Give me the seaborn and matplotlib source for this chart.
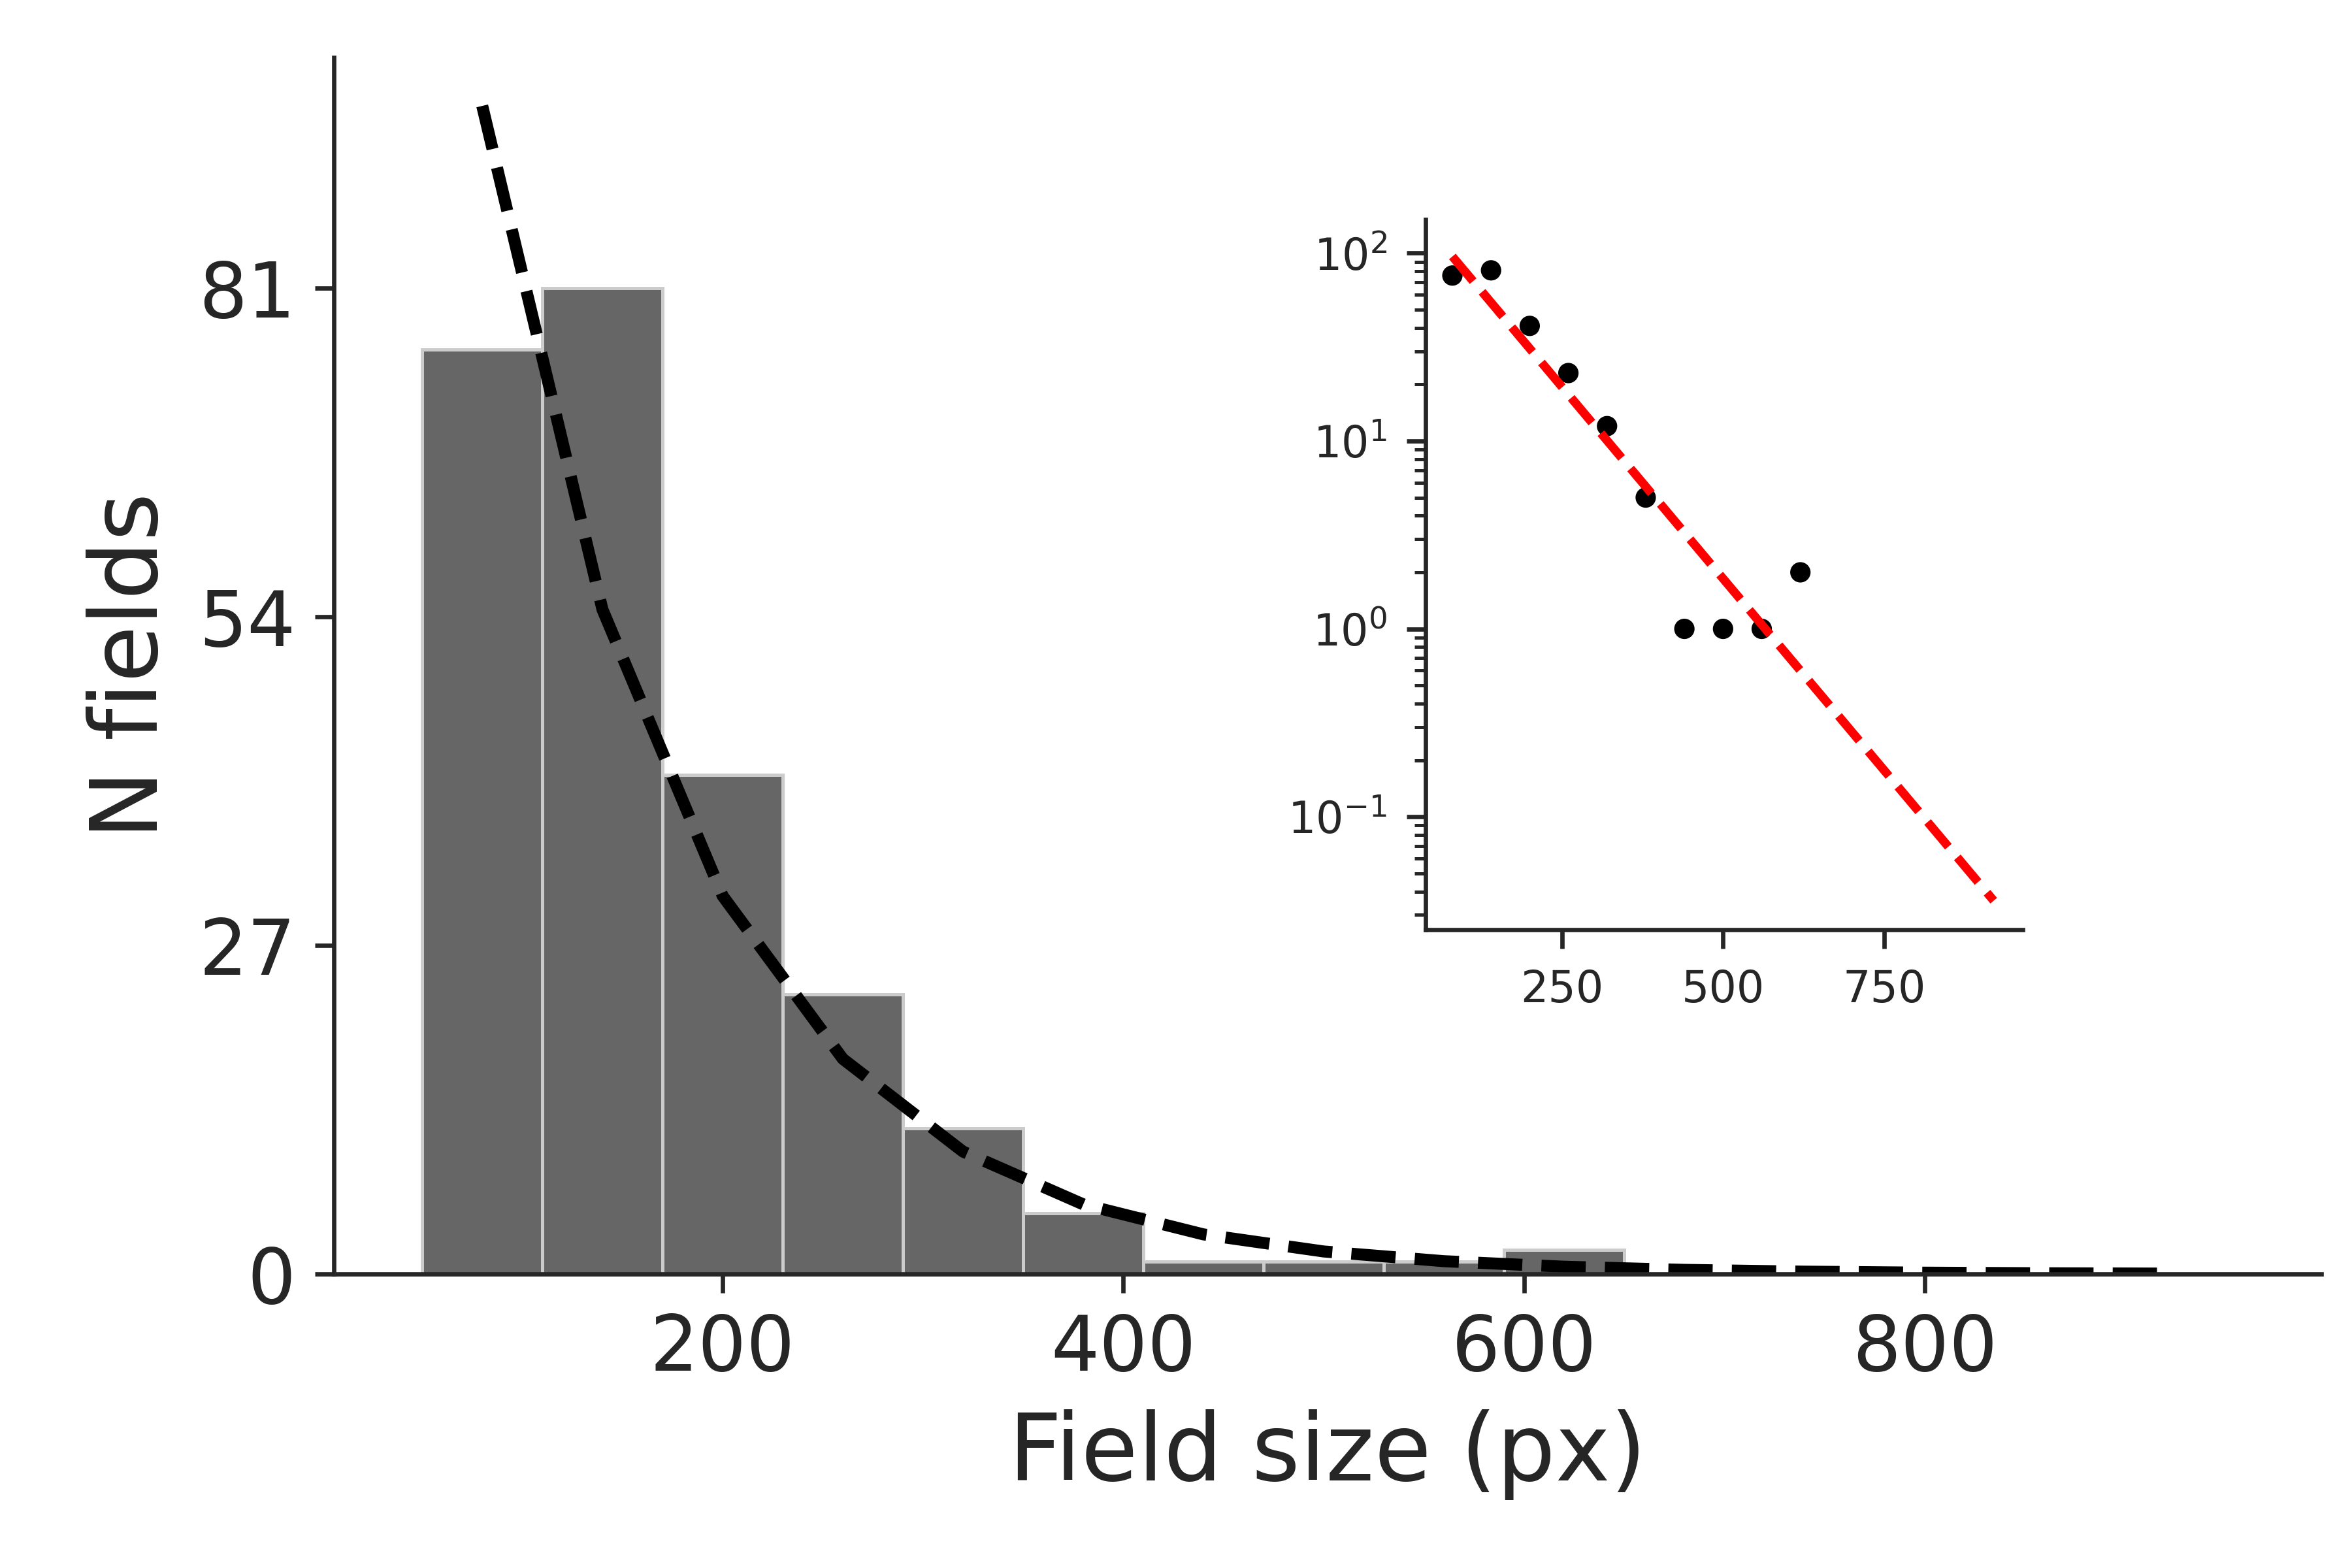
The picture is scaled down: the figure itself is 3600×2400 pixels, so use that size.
import numpy as np
import pandas as pd
import matplotlib
matplotlib.use("Agg")
import matplotlib.pyplot as plt
import seaborn as sns

# histogram of field sizes (bin edges and counts)
bin_edges = [50, 110, 170, 230, 290, 350, 410, 470, 530, 590, 650]
bin_centers = [80, 140, 200, 260, 320, 380, 440, 500, 560, 620]
counts = [76, 81, 41, 23, 12, 5, 1, 1, 1, 2]

# exponential fit parameters (estimated from the dashed curve)
fit_a = 96.0
fit_k = 0.0094
fit_x0 = 80
fit_x = list(range(80, 981, 60))
fit_y = [fit_a * np.exp(-fit_k * (x - fit_x0)) for x in fit_x]
fit_x_inset = [80, 920]
fit_y_inset = [fit_a * np.exp(-fit_k * (x - fit_x0)) for x in fit_x_inset]

sns.set_style("ticks")
plt.rcParams['font.family'] = ['DejaVu Sans']

fig = plt.figure(figsize=(6, 4), dpi=600)
ax = fig.add_axes([0.142, 0.1875, 0.845, 0.776])

hist_df = pd.DataFrame({"size": bin_centers, "n": counts})
sns.histplot(data=hist_df, x="size", weights="n", bins=bin_edges, ax=ax,
             color="#666666", alpha=1, edgecolor="#cccccc", linewidth=0.6)
sns.lineplot(x=fit_x[:-1], y=fit_y[:-1], ax=ax, color="black", linestyle="--",
             linewidth=2.2, dashes=(3, 1.6))
ax.set_xlim(6, 998)
ax.set_ylim(0, 100)
ax.set_yticks([0, 27, 54, 81])
ax.set_xticks([200, 400, 600, 800])
ax.tick_params(labelsize=14, width=0.8)
ax.set_xlabel("Field size (px)", fontsize=17)
ax.set_ylabel("N fields", fontsize=17)
sns.despine(ax=ax)

ins = fig.add_axes([0.606, 0.407, 0.254, 0.453])
sns.scatterplot(x=bin_centers, y=counts, ax=ins, color="black", s=14, edgecolor="none")
sns.lineplot(x=fit_x_inset, y=fit_y_inset, ax=ins, color="red", linestyle="--",
             linewidth=1.6, dashes=(3, 1.6))
ins.set_yscale("log")
ins.set_xlim(38, 965)
ins.set_ylim(0.025, 151)
ins.set_xticks([250, 500, 750])
ins.tick_params(labelsize=8, width=0.8)
sns.despine(ax=ins)

fig.savefig("out.png", dpi=600)
